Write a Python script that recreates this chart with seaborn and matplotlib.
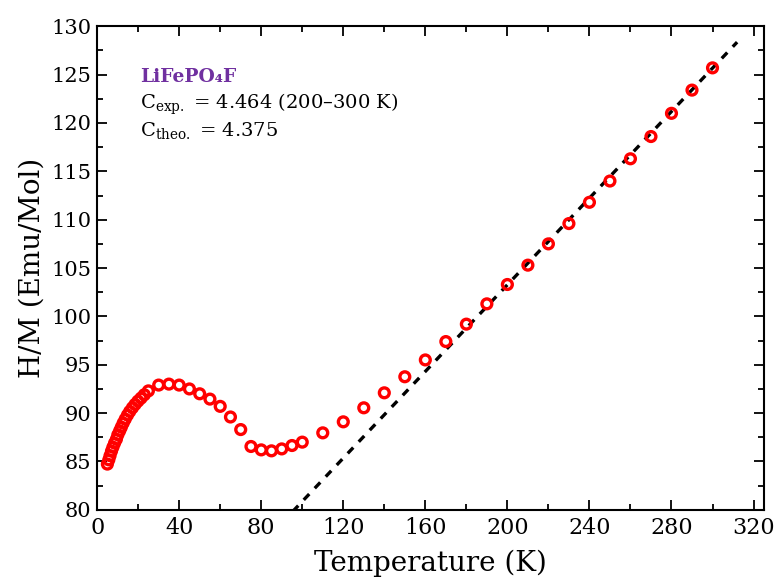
import numpy as np
import pandas as pd
import matplotlib.pyplot as plt
from matplotlib.ticker import MultipleLocator
import seaborn as sns

# measured H/M vs temperature
TEMPERATURE = [
	5.0, 5.7, 6.3, 7.0, 7.7, 8.5, 9.4, 10.1, 11.0, 11.8, 12.7, 13.7, 14.8,
	15.9, 17.2, 18.5, 19.9, 21.4, 23.0,
	25, 30, 35, 40, 45, 50, 55, 60, 65, 70, 75, 80, 85, 90, 95, 100,
	110, 120, 130, 140, 150, 160, 170, 180, 190, 200, 210, 220, 230, 240,
	250, 260, 270, 280, 290, 300,
]
HM = [
	84.73, 85.17, 85.60, 86.07, 86.48, 86.90, 87.30, 87.76, 88.17, 88.55,
	88.97, 89.38, 89.80, 90.17, 90.55, 90.90, 91.24, 91.55, 91.90,
	92.30, 92.90, 93.00, 92.90, 92.50, 92.00, 91.45, 90.70, 89.60, 88.30,
	86.55, 86.20, 86.10, 86.30, 86.65, 87.00,
	87.96, 89.10, 90.55, 92.10, 93.76, 95.50, 97.40, 99.20, 101.30, 103.30,
	105.30, 107.50, 109.60, 111.80, 114.00, 116.30, 118.60, 121.00, 123.40,
	125.70,
]

# Curie-Weiss fit: H/M = (T - theta) / C
C_EXP = 4.464
THETA = -261.0
FIT_RANGE = [90, 312]


def plot_data(data: pd.DataFrame, fit: pd.DataFrame) -> None:
	fig = plt.figure(figsize=(7.77, 5.84), dpi=100)
	ax = fig.add_axes([0.125, 0.127, 0.858, 0.828])

	sns.lineplot(
		data=fit, x="T", y="HM", ax=ax,
		color="black", linewidth=2.4, linestyle=(0, (2.4, 2.4)), zorder=2
	)
	sns.scatterplot(
		data=data, x="T", y="HM", ax=ax,
		marker="o", s=50, facecolors="none", edgecolor="red",
		linewidth=2.4, zorder=3
	)

	ax.set_xlim(0, 325)
	ax.set_ylim(80, 130)
	ax.xaxis.set_major_locator(MultipleLocator(40))
	ax.xaxis.set_minor_locator(MultipleLocator(20))
	ax.yaxis.set_major_locator(MultipleLocator(5))
	ax.yaxis.set_minor_locator(MultipleLocator(2.5))
	ax.tick_params(which="both", direction="in", top=True, right=True,
		width=1.3, color="black", labelcolor="black")
	ax.tick_params(which="major", length=7)
	ax.tick_params(which="minor", length=4)
	ax.tick_params(axis="x", labelsize=16, pad=5)
	ax.tick_params(axis="y", labelsize=15, pad=4)
	for spine in ax.spines.values():
		spine.set_linewidth(1.5)
		spine.set_color("black")

	ax.set_xlabel("Temperature (K)", fontsize=20, labelpad=8, color="black")
	ax.set_ylabel("H/M (Emu/Mol)", fontsize=20, labelpad=4, color="black")

	ax.text(0.064, 0.885, "LiFePO\u2084F", transform=ax.transAxes,
		fontsize=13.5, fontweight="bold", color="#7030A0", va="baseline")
	ax.text(0.064, 0.829, "C$_{\\mathrm{exp.}}$ = 4.464 (200\u2013300 K)",
		transform=ax.transAxes, fontsize=14, va="baseline", color="black")
	ax.text(0.064, 0.774, "C$_{\\mathrm{theo.}}$ = 4.375",
		transform=ax.transAxes, fontsize=14, va="baseline", color="black")

	plt.savefig("out.png", dpi=100)


def main():
	sns.set_theme(style="ticks")
	plt.rcParams["font.family"] = ["DejaVu Serif"]
	plt.rcParams["mathtext.fontset"] = "dejavuserif"
	plt.rcParams["text.color"] = "black"
	data = pd.DataFrame({"T": TEMPERATURE, "HM": HM})
	fit_t = np.array(FIT_RANGE, dtype=float)
	fit = pd.DataFrame({"T": fit_t, "HM": (fit_t - THETA) / C_EXP})
	plot_data(data, fit)


if __name__ == "__main__":
	main()
